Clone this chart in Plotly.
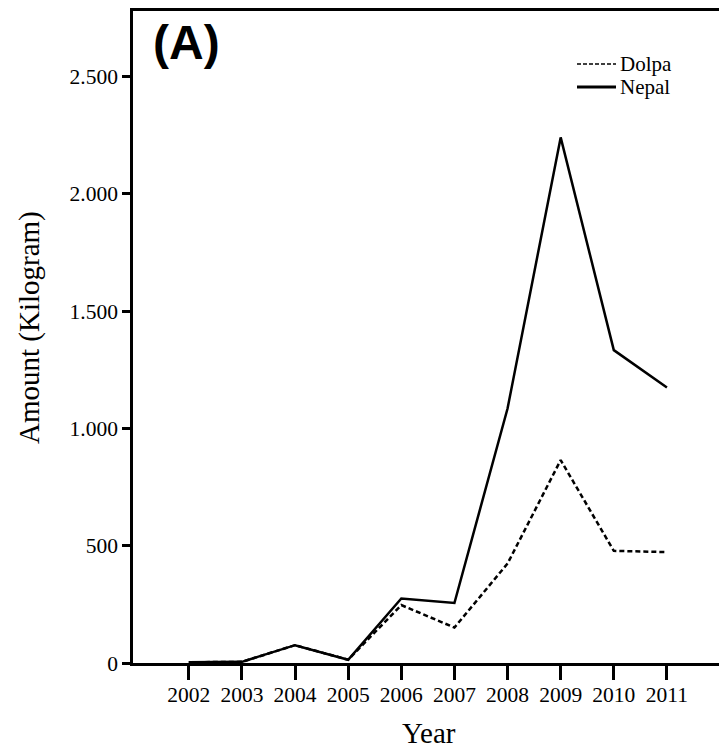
import plotly.graph_objects as go

years = [2002, 2003, 2004, 2005, 2006, 2007, 2008, 2009, 2010, 2011]
dolpa = [3, 5, 76, 14, 247, 151, 424, 865, 478, 473]
nepal = [3, 5, 76, 14, 275, 256, 1085, 2241, 1334, 1175]
y_ticks = [0, 500, 1000, 1500, 2000, 2500]
series_names = ["Dolpa", "Nepal"]

serif = "Liberation Serif"
L, R, T, B, W, H = 133, 0, 11, 86, 719, 749
PW, PH = W - L - R, H - T - B


def px(x):
    return (x - L) / PW


def py(y):
    return (H - B - y) / PH


fig = go.Figure()
fig.add_trace(go.Scatter(x=years, y=dolpa, mode="lines", name=series_names[0],
                         line=dict(color="black", width=2.5, dash="5px,3px")))
fig.add_trace(go.Scatter(x=years, y=nepal, mode="lines", name=series_names[1],
                         line=dict(color="black", width=2.5)))

legend_y = [64, 87]
shapes = [
    dict(type="line", xref="paper", yref="paper", x0=px(577), x1=px(616),
         y0=py(legend_y[0]), y1=py(legend_y[0]),
         line=dict(color="black", width=1.5, dash="4px,2px")),
    dict(type="line", xref="paper", yref="paper", x0=px(577), x1=px(616),
         y0=py(legend_y[1]), y1=py(legend_y[1]),
         line=dict(color="black", width=3)),
]

annotations = [
    dict(text="<b>(A)</b>", xref="paper", yref="paper", x=px(152), y=py(15),
         xanchor="left", yanchor="top", showarrow=False, borderpad=0,
         font=dict(family="Liberation Sans", size=48, color="black")),
    dict(text="Year", xref="paper", yref="paper", x=px(429), y=py(733),
         xanchor="center", yanchor="middle", showarrow=False, borderpad=0,
         font=dict(family=serif, size=29, color="black")),
    dict(text="Amount (Kilogram)", xref="paper", yref="paper", x=px(29),
         y=py(328), xanchor="center", yanchor="middle", showarrow=False,
         textangle=-90, font=dict(family=serif, size=29, color="black")),
]
for name, ly in zip(series_names, legend_y):
    annotations.append(dict(text=name, xref="paper", yref="paper", x=px(618), y=py(ly),
                            xanchor="left", yanchor="middle", showarrow=False,
                            font=dict(family=serif, size=21, color="black")))

fig.update_layout(
    width=W, height=H,
    margin=dict(l=L, r=R, t=T, b=B),
    plot_bgcolor="white", paper_bgcolor="white",
    separators=",.",
    font=dict(family=serif, color="black", size=21),
    showlegend=False,
    xaxis=dict(range=[2000.95, 2011.98], tickmode="array", tickvals=years,
               ticktext=[str(y) for y in years],
               showgrid=False, zeroline=False, showline=True, linecolor="black",
               linewidth=2.5, mirror=True, ticks="outside", ticklen=14, tickwidth=2.5,
               tickcolor="black", tickfont=dict(family=serif, size=21.5),
               ticklabelstandoff=-4),
    yaxis=dict(range=[0, 2780], tickmode="array", tickvals=y_ticks,
               tickformat=",d",
               showgrid=False, zeroline=False, showline=True, linecolor="black",
               linewidth=2.5, ticks="outside", ticklen=8, tickwidth=2.5,
               tickcolor="black", tickfont=dict(family=serif, size=21.5)),
    shapes=shapes,
    annotations=annotations,
)

fig.write_html("out.html", config={"displayModeBar": False},
               post_script="document.body.style.margin='0';document.body.style.overflow='hidden';")
